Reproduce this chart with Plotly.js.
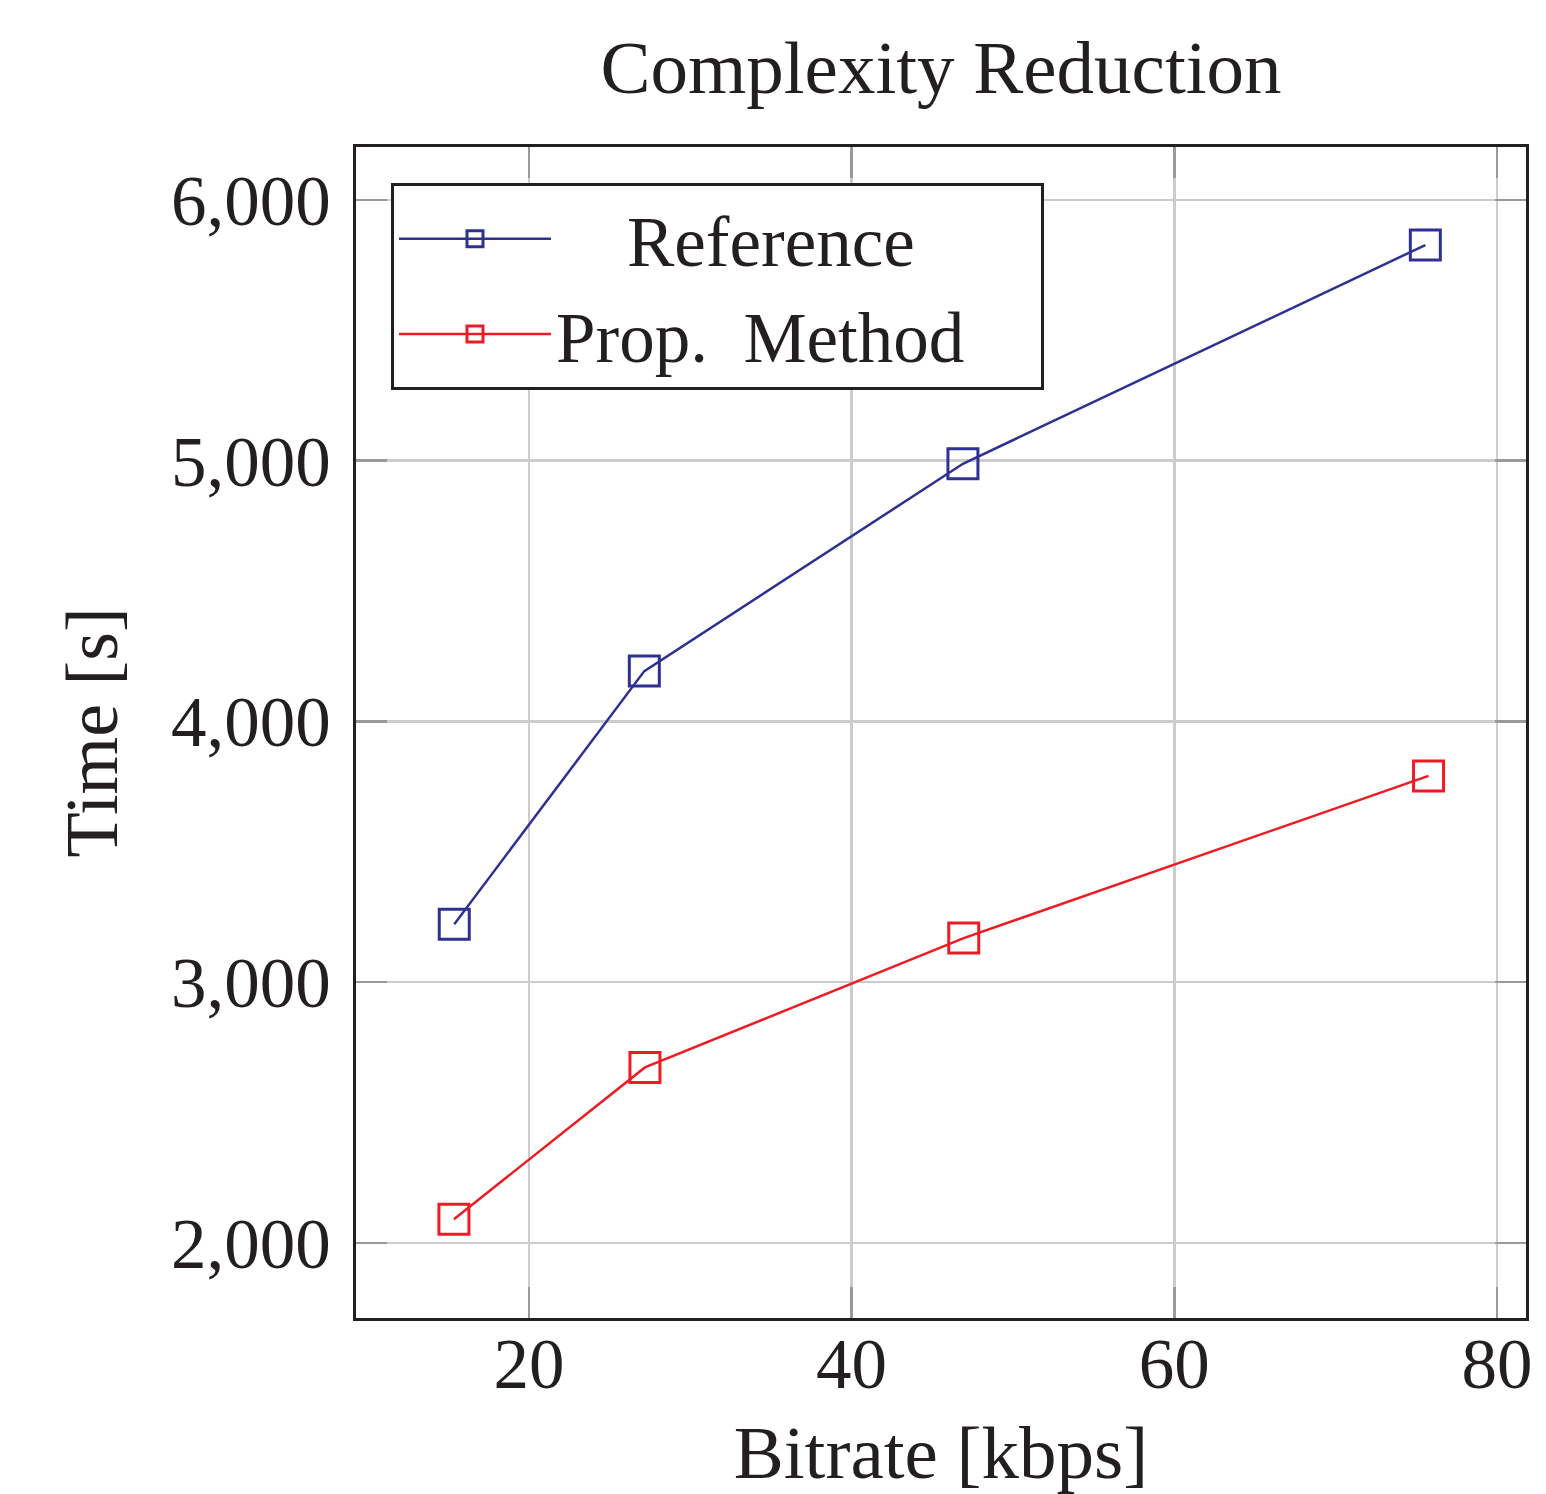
<!DOCTYPE html>
<html>
<head>
<meta charset="utf-8">
<script src="https://cdn.plot.ly/plotly-3.0.1.min.js"></script>
<style>html,body{margin:0;padding:0;background:#fff;}#chart{width:1546px;height:1494px;}</style>
</head>
<body>
<div id="chart"></div>
<script>
// Data
const bitrate_ref = [15.37, 27.15, 46.9, 75.56];
const time_ref = [3222, 4193, 4988, 5827];
const bitrate_prop = [15.35, 27.19, 46.95, 75.76];
const time_prop = [2091, 2673, 3169, 3791];
const seriesNames = ['\u00a0\u00a0\u00a0\u00a0Reference', 'Prop.\u00a0\u00a0Method\u00a0\u00a0\u00a0\u00a0'];
const xTicks = [20, 40, 60, 80];
const yTicks = [2000, 3000, 4000, 5000, 6000];

const FONT = 'Liberation Serif, Times New Roman, serif';
const TXT = '#231f20';
const BLUE = '#2e3192';
const RED = '#ed1c24';

const traces = [
  {x: bitrate_ref, y: time_ref, name: seriesNames[0], mode: 'lines+markers', type: 'scatter',
   line: {color: BLUE, width: 2.5}, marker: {symbol: 'square-open', size: 30, color: BLUE, line: {width: 3, color: BLUE}}},
  {x: bitrate_prop, y: time_prop, name: seriesNames[1], mode: 'lines+markers', type: 'scatter',
   line: {color: RED, width: 2.5}, marker: {symbol: 'square-open', size: 30, color: RED, line: {width: 3, color: RED}}}
];

const axisCommon = {
  showline: true, linecolor: '#231f20', linewidth: 3, mirror: 'ticks',
  ticks: 'inside', ticklen: 31, tickwidth: 2.5, tickcolor: '#9a9a9a',
  showgrid: true, gridcolor: '#cccccc', gridwidth: 2.5, zeroline: false,
  tickfont: {family: FONT, size: 71, color: TXT}
};

const layout = {
  width: 1546, height: 1494,
  paper_bgcolor: '#fff', plot_bgcolor: '#fff',
  margin: {l: 356, r: 20, t: 147, b: 176},
  font: {family: FONT, color: TXT},
  title: {text: 'Complexity Reduction', font: {family: FONT, size: 75, color: TXT},
          x: 0.5, xref: 'paper', xanchor: 'center', y: 1 - 67/1494, yref: 'container', yanchor: 'middle'},
  xaxis: Object.assign({}, axisCommon, {
    range: [9.28, 81.8], tickmode: 'array', tickvals: xTicks, ticktext: xTicks.map(String),
    ticklabelstandoff: -18,
    title: {text: 'Bitrate [kbps]', font: {family: FONT, size: 75, color: TXT}, standoff: 50}
  }),
  yaxis: Object.assign({}, axisCommon, {
    range: [1712, 6203], tickmode: 'array', tickvals: yTicks,
    ticktext: yTicks.map(v => v.toLocaleString('en-US')),
    ticklabelstandoff: 8,
    title: {text: 'Time [s]', font: {family: FONT, size: 74, color: TXT}, standoff: 30}
  }),
  showlegend: true,
  legend: {x: 35/1170, y: 1 - 36/1171, xanchor: 'left', yanchor: 'top',
           bgcolor: '#fff', bordercolor: '#231f20', borderwidth: 3,
           font: {family: FONT, size: 71, color: TXT}, itemwidth: 152, tracegroupgap: 0}
};

Plotly.newPlot('chart', traces, layout, {displayModeBar: false, staticPlot: true});
</script>
</body>
</html>
